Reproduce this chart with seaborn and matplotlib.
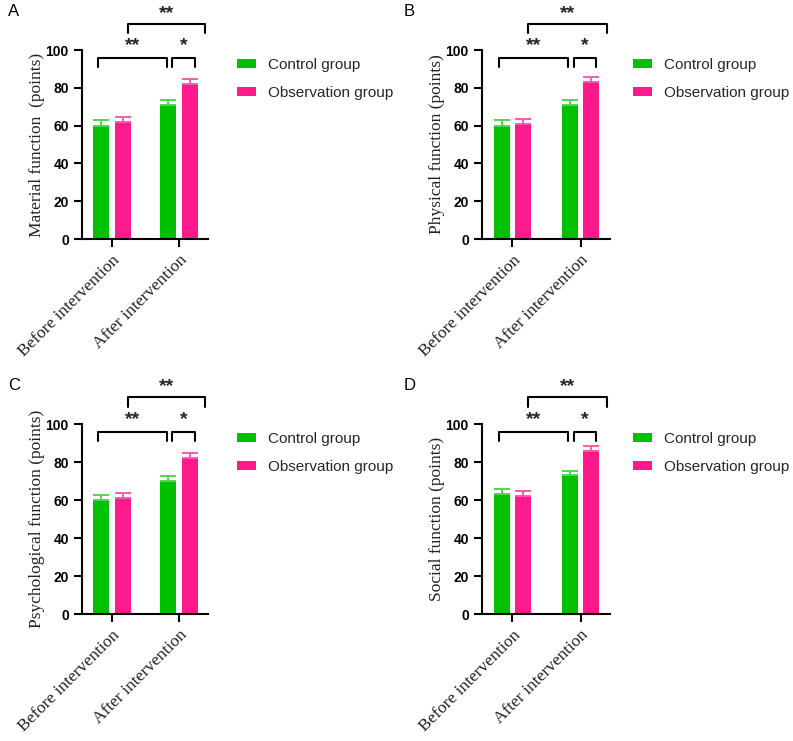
import numpy as np
import pandas as pd
import seaborn as sns
import matplotlib.pyplot as plt
from matplotlib.patches import Patch

timepoints = ["Before intervention", "After intervention"]
groups = ["Control group", "Observation group"]
panel_letters = ["A", "B", "C", "D"]
ylabels = ["Material function  (points)", "Physical function (points)",
           "Psychological function (points)", "Social function (points)"]

material_control = [60, 71]
material_obs = [62, 82]
material_control_err = [2.7, 2.4]
material_obs_err = [2.6, 2.8]

physical_control = [60, 71]
physical_obs = [61, 83]
physical_control_err = [2.7, 2.4]
physical_obs_err = [2.5, 2.7]

psych_control = [60, 70]
psych_obs = [61, 82]
psych_control_err = [2.8, 2.4]
psych_obs_err = [2.5, 2.7]

social_control = [63, 73]
social_obs = [62, 86]
social_control_err = [2.9, 2.5]
social_obs_err = [2.6, 2.6]

sig_lower_left = ["**"] * 4
sig_lower_right = ["*"] * 4
sig_top = ["**"] * 4

panels = [
    (material_control, material_obs, material_control_err, material_obs_err),
    (physical_control, physical_obs, physical_control_err, physical_obs_err),
    (psych_control, psych_obs, psych_control_err, psych_obs_err),
    (social_control, social_obs, social_control_err, social_obs_err),
]

green = "#00C000"
pink = "#FF1A8C"
green_err = "#55D455"
pink_err = "#FF5AAA"

sns.set_theme(style="ticks")
plt.rcParams["font.family"] = ["Liberation Sans", "DejaVu Sans"]

W, H = 793, 741
fig = plt.figure(figsize=(W / 100, H / 100), dpi=100)

# axes pixel boxes: (left, top, right, bottom)
boxes = [(82, 50, 208, 239), (482, 50, 610, 239),
         (82, 424, 208, 614), (482, 424, 610, 614)]
letter_pos = [(8, 12), (404, 12), (8, 385), (404, 385)]
legend_left_px = [237, 633, 237, 633]

for i, (ctrl, obs, cerr, oerr) in enumerate(panels):
    l, t, r, b = boxes[i]
    ax = fig.add_axes([l / W, 1 - b / H, (r - l) / W, (b - t) / H])
    df = pd.DataFrame({
        "time": timepoints * 2,
        "group": [groups[0]] * 2 + [groups[1]] * 2,
        "value": ctrl + obs,
    })
    sns.barplot(data=df, x="time", y="value", hue="group", order=timepoints,
                hue_order=groups, palette=[green, pink], width=0.63, gap=0.24,
                errorbar=None, legend=False, ax=ax, saturation=1, linewidth=0)
    centers = []
    for cont, vals, errs, ec in zip(ax.containers, [ctrl, obs], [cerr, oerr],
                                   [green_err, pink_err]):
        xs = [p.get_x() + p.get_width() / 2 for p in cont.patches]
        centers.append(xs)
        ax.errorbar(xs, vals, yerr=[np.zeros(len(vals)), errs], fmt="none",
                    ecolor=ec, elinewidth=1.4, capsize=6, capthick=1.4, zorder=1)
    ax.set_ylim(0, 100)
    ax.set_xlim(-0.448, 1.433)
    ax.set_yticks([0, 20, 40, 60, 80, 100])
    sns.despine(ax=ax)
    for s in ["left", "bottom"]:
        ax.spines[s].set_linewidth(1.5)
        ax.spines[s].set_color("black")
    ax.tick_params(axis="both", length=6, width=1.5, color="black", direction="out")
    for lab in ax.get_yticklabels():
        lab.set_fontweight("bold")
        lab.set_fontsize(10)
        lab.set_color("black")
    ax.set_xticks([0, 1])
    ax.set_xticklabels(timepoints, rotation=45, ha="right",
                       rotation_mode="anchor", family="Liberation Serif",
                       fontsize=12.5, color="#222222")
    ax.set_xlabel("")
    ax.set_ylabel(ylabels[i], family="Liberation Serif", fontsize=12.5,
                  color="#222222", labelpad=0.5)

    # significance brackets
    gb, ga = centers[0]
    pb, pa = centers[1]
    def bracket(x1, x2, y, drop, text, ty):
        ax.plot([x1, x1, x2, x2], [y - drop, y, y, y - drop], color="black",
                lw=1.5, clip_on=False)
        ax.text((x1 + x2) / 2, ty, text, ha="center", va="center",
                fontsize=14, fontweight="bold", clip_on=False)
    bracket(gb - 0.045, ga - 0.02, 96, 4.8, sig_lower_left[i], 102.5)
    bracket(ga + 0.06, pa + 0.075, 96, 4.8, sig_lower_right[i], 102.5)
    bracket(pb + 0.075, pa + 0.235, 114, 4.8, sig_top[i], 119.5)

    handles = [Patch(facecolor=green, edgecolor="none"),
               Patch(facecolor=pink, edgecolor="none")]
    ax.legend(handles, groups, loc="upper left", frameon=False,
              bbox_to_anchor=((legend_left_px[i] - l) / (r - l), 0.958),
              borderaxespad=0, borderpad=0,
              fontsize=11, handlelength=1.24, handleheight=0.52,
              labelspacing=0.9, handletextpad=0.78)

    lx, ly = letter_pos[i]
    fig.text(lx / W, 1 - ly / H, panel_letters[i], fontsize=12, ha="left",
             va="center", color="black")

fig.savefig("out.png", dpi=100)
